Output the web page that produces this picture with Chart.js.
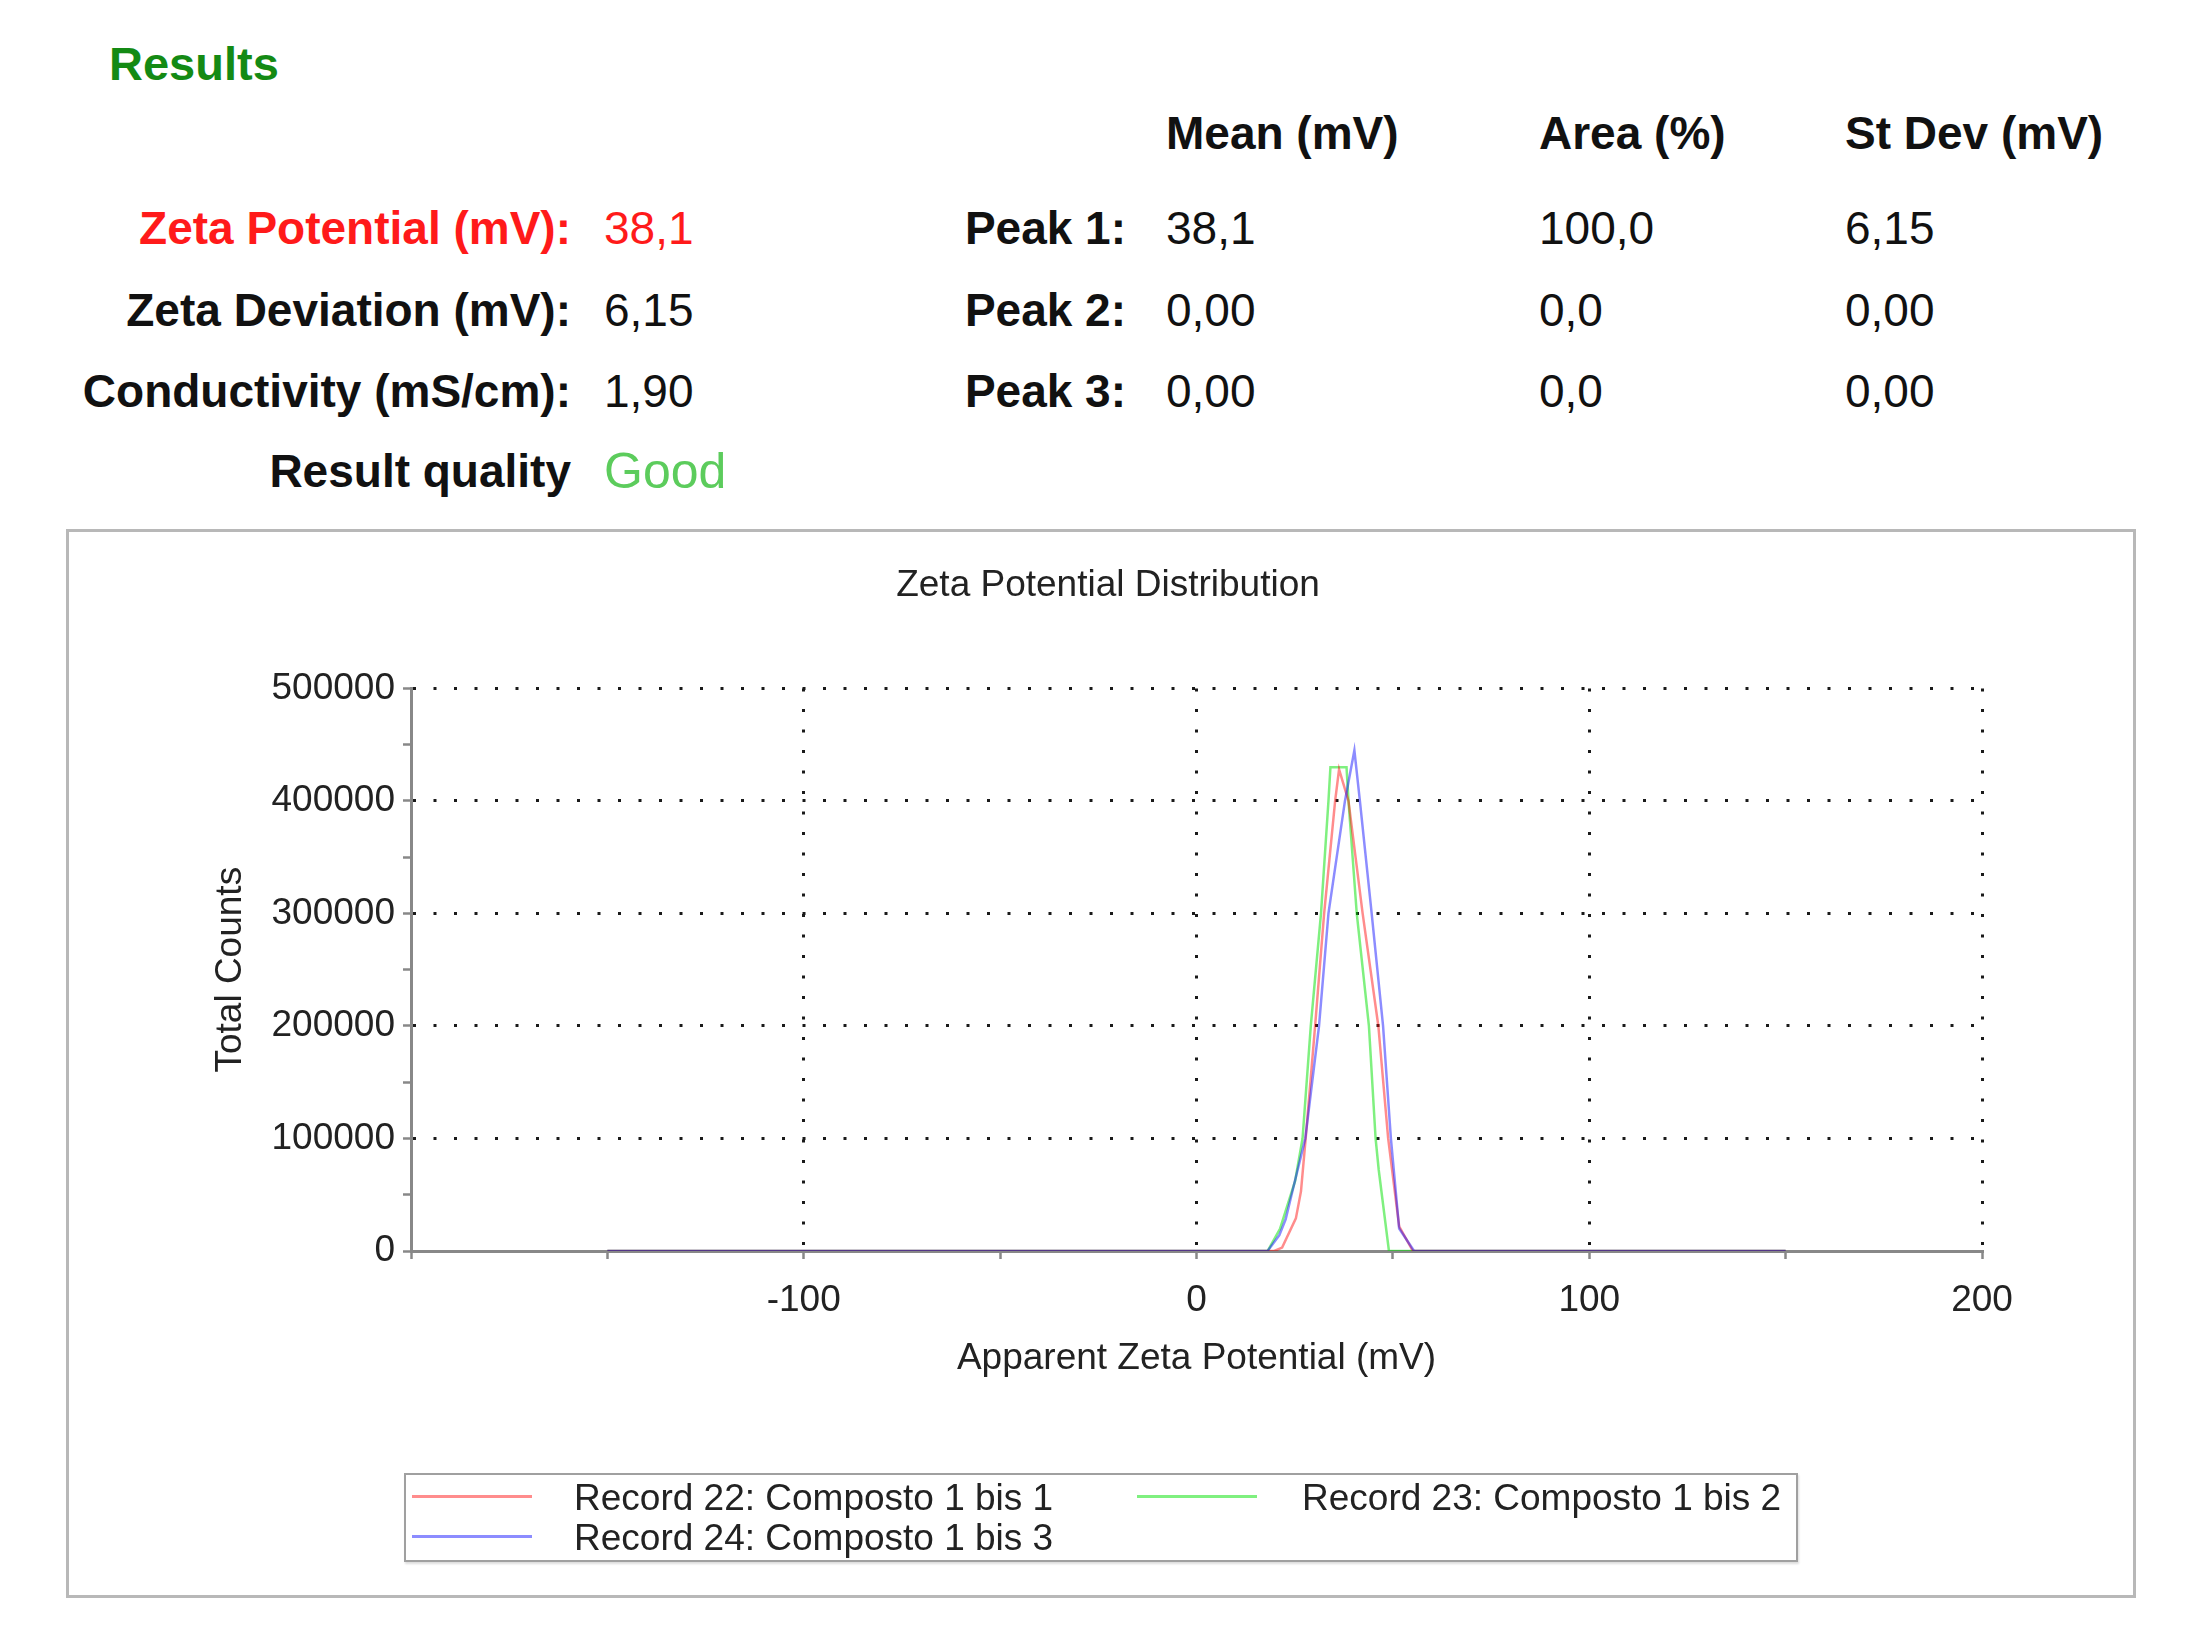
<!DOCTYPE html>
<html>
<head>
<meta charset="utf-8">
<script src="https://cdn.jsdelivr.net/npm/chart.js@4.4.1/dist/chart.umd.min.js"></script>
<style>
  body { margin: 0; background: #fff; width: 2199px; height: 1648px; overflow: hidden; position: relative;
         font-family: "Liberation Sans", Arial, sans-serif; color: #111; }
  .t { position: absolute; font-size: 46px; line-height: 46px; white-space: nowrap; }
  .b { font-weight: bold; }
  .r { text-align: right; }
  #frame { position: absolute; left: 66px; top: 529px; width: 2070px; height: 1069px;
           box-sizing: border-box; border: 3px solid #b8b8b8; }
  #holder { position: absolute; left: 66px; top: 531px; width: 2067px; height: 1067px; }
  #legend { position: absolute; left: 404px; top: 1473px; width: 1394px; height: 89px;
            box-sizing: border-box; border: 2px solid #a0a0a0; box-shadow: 1px 2px 2px #ddd; }
  .li { position: absolute; font-size: 37px; line-height: 37px; color: #222; white-space: nowrap; }
  .sw { position: absolute; height: 3px; width: 120px; }
</style>
</head>
<body>

<div class="t b" style="left:109px; top:41px; font-size:47px; color:#148a14;">Results</div>

<div class="t b" style="left:1166px; top:110px;">Mean (mV)</div>
<div class="t b" style="left:1539px; top:110px;">Area (%)</div>
<div class="t b" style="left:1845px; top:110px;">St Dev (mV)</div>

<div class="t b r" style="left:0; width:571px; top:205px; color:#ff1a1a;">Zeta Potential (mV):</div>
<div class="t" style="left:604px; top:205px; color:#ff1a1a;">38,1</div>
<div class="t b r" style="left:0; width:571px; top:287px;">Zeta Deviation (mV):</div>
<div class="t" style="left:604px; top:287px;">6,15</div>
<div class="t b r" style="left:0; width:571px; top:368px;">Conductivity (mS/cm):</div>
<div class="t" style="left:604px; top:368px;">1,90</div>
<div class="t b r" style="left:0; width:571px; top:448px;">Result quality</div>
<div class="t" style="left:604px; top:446px; font-size:50px; line-height:50px; color:#5ccc5c;">Good</div>

<div class="t b r" style="left:0; width:1126px; top:205px;">Peak 1:</div>
<div class="t" style="left:1166px; top:205px;">38,1</div>
<div class="t" style="left:1539px; top:205px;">100,0</div>
<div class="t" style="left:1845px; top:205px;">6,15</div>
<div class="t b r" style="left:0; width:1126px; top:287px;">Peak 2:</div>
<div class="t" style="left:1166px; top:287px;">0,00</div>
<div class="t" style="left:1539px; top:287px;">0,0</div>
<div class="t" style="left:1845px; top:287px;">0,00</div>
<div class="t b r" style="left:0; width:1126px; top:368px;">Peak 3:</div>
<div class="t" style="left:1166px; top:368px;">0,00</div>
<div class="t" style="left:1539px; top:368px;">0,0</div>
<div class="t" style="left:1845px; top:368px;">0,00</div>

<div id="frame"></div>
<div id="holder"><canvas id="zeta" width="2067" height="1067"></canvas></div>
<div id="legend"></div>

<script>
// Zeta potential distribution
const record22Mv = [-150, 19.8, 21.8, 25.3, 26.6, 27.8, 30.2, 32.5, 35.3, 36.3, 38.7, 42.3, 46.3, 48.8, 51.6, 55.1, 150];
const record22Counts = [0, 0, 3000, 29000, 53000, 100000, 200000, 300000, 400000, 428000, 400000, 300000, 200000, 100000, 22000, 0, 0];

const record23Mv = [-150, 18.1, 21.3, 25.1, 27.0, 29.1, 31.7, 33.6, 34.1, 38.2, 38.7, 40.8, 43.9, 45.6, 46.4, 49.0, 150];
const record23Counts = [0, 0, 20000, 62000, 100000, 200000, 300000, 400000, 430000, 430000, 400000, 300000, 200000, 100000, 72000, 0, 0];

const record24Mv = [-150, 18.1, 21.1, 22.7, 24.9, 27.7, 31.2, 33.6, 37.8, 40.2, 41.6, 44.6, 47.5, 49.5, 51.6, 55.4, 150];
const record24Counts = [0, 0, 14000, 28000, 60000, 100000, 200000, 300000, 400000, 445000, 400000, 300000, 200000, 100000, 20000, 0, 0];

const seriesLabels = ['Record 22: Composto 1 bis 1', 'Record 23: Composto 1 bis 2', 'Record 24: Composto 1 bis 3'];
const seriesColors = ['rgba(255,0,0,0.45)', 'rgba(0,225,0,0.5)', 'rgba(0,0,255,0.45)'];

const xLabelled = [-100, 0, 100, 200];
const yLabelled = [100000, 200000, 300000, 400000, 500000];

const toPoints = (xs, ys) => xs.map((x, i) => ({ x: x, y: ys[i] }));

const datasets = [
    { label: seriesLabels[2], data: toPoints(record24Mv, record24Counts), borderColor: seriesColors[2] },
    { label: seriesLabels[0], data: toPoints(record22Mv, record22Counts), borderColor: seriesColors[0] },
    { label: seriesLabels[1], data: toPoints(record23Mv, record23Counts), borderColor: seriesColors[1] }
].map(d => Object.assign(d, { borderWidth: 2.5, pointRadius: 0, tension: 0, fill: false }));

Chart.defaults.font.family = '"Liberation Sans", Arial, sans-serif';
Chart.defaults.font.size = 37;
Chart.defaults.color = '#222';

const dotted = [3, 17.5];

// title in the report is centred on the whole frame, not on the padded box
const centreTitle = {
    id: 'centreTitle',
    afterLayout(chart) {
        const t = chart.titleBlock;
        if (t) { t.left = 0; t.right = 2084; }
    }
};

new Chart(document.getElementById('zeta').getContext('2d'), {
    type: 'line',
    data: { datasets },
    plugins: [centreTitle],
    options: {
        responsive: false,
        animation: false,
        devicePixelRatio: 1,
        layout: { padding: { left: 0, right: 151, top: 0, bottom: 0 } },
        plugins: {
            legend: { display: false },
            tooltip: { enabled: false },
            title: {
                display: true,
                text: 'Zeta Potential Distribution',
                font: { size: 37, weight: 'normal' },
                color: '#222',
                padding: { top: 33, bottom: 80 }
            }
        },
        scales: {
            x: {
                type: 'linear',
                min: -200,
                max: 200,
                afterFit: (scale) => { scale.height = 347; },
                ticks: {
                    stepSize: 50,
                    autoSkip: false,
                    maxRotation: 0,
                    padding: 20,
                    callback: (v) => xLabelled.includes(v) ? String(v) : ''
                },
                grid: {
                    color: (ctx) => xLabelled.includes(ctx.tick.value) ? '#1a1a1a' : 'rgba(0,0,0,0)',
                    lineWidth: 3,
                    tickColor: '#888',
                    tickLength: 8,
                    tickWidth: 2.5
                },
                border: { display: true, color: '#888', width: 3, dash: dotted },
                title: {
                    display: true,
                    text: 'Apparent Zeta Potential (mV)',
                    color: '#222',
                    padding: { top: 0, bottom: 217 }
                }
            },
            y: {
                min: 0,
                max: 500000,
                afterFit: (scale) => { scale.width = 345; },
                ticks: {
                    stepSize: 50000,
                    autoSkip: false,
                    padding: 8,
                    callback: (v) => (v % 100000 === 0) ? String(v) : ''
                },
                grid: {
                    color: (ctx) => yLabelled.includes(ctx.tick.value) ? '#1a1a1a' : 'rgba(0,0,0,0)',
                    lineWidth: 3,
                    tickColor: '#888',
                    tickLength: 8,
                    tickWidth: 2.5
                },
                border: { display: true, color: '#888', width: 3, dash: dotted },
                title: {
                    display: true,
                    text: 'Total Counts',
                    color: '#222',
                    padding: { top: 143, bottom: 0 }
                }
            }
        }
    }
});

// boxed legend, two columns like the instrument report
const legend = document.getElementById('legend');
const legendSlots = [
    { idx: 0, sx: 6, tx: 168, y: 21 },
    { idx: 1, sx: 731, tx: 896, y: 21 },
    { idx: 2, sx: 6, tx: 168, y: 61 }
];
legendSlots.forEach(s => {
    const sw = document.createElement('div');
    sw.className = 'sw';
    sw.style.left = s.sx + 'px';
    sw.style.top = (s.y - 1) + 'px';
    sw.style.background = seriesColors[s.idx];
    legend.appendChild(sw);
    const tx = document.createElement('div');
    tx.className = 'li';
    tx.style.left = s.tx + 'px';
    tx.style.top = (s.y - 17) + 'px';
    tx.textContent = seriesLabels[s.idx];
    legend.appendChild(tx);
});
</script>
</body>
</html>
